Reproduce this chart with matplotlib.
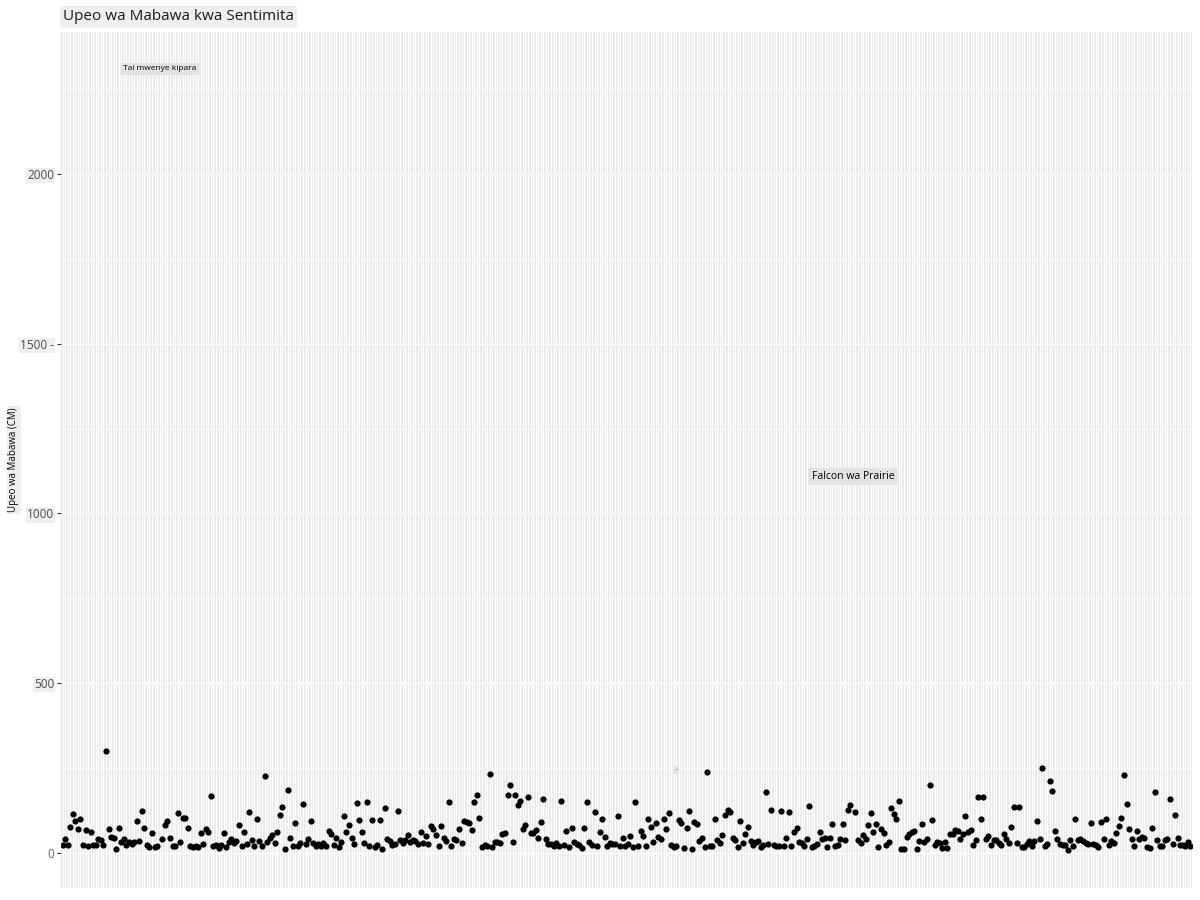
import matplotlib
matplotlib.use("Agg")
import matplotlib.pyplot as plt
import numpy as np

# ---- data (in category order) ----
seg1 = [25, 41, 25, 76, 116, 93, 71, 100, 25, 68, 22, 62, 25, 25, 41, 39, 25, 301, 71, 47,
        44, 12, 74, 32, 41, 25, 32, 27, 32, 94, 35, 123, 74, 25, 19, 59, 19, 22]
bald_eagle = [2310]
seg2 = [41, 82, 94, 44, 22, 22, 118, 32, 103, 103, 74, 22, 19, 22, 19, 59, 27, 71, 62, 168,
        22, 25, 14, 25, 59, 19, 32, 41, 29, 35, 82, 22, 62, 27, 121, 39, 22, 100, 35, 22,
        227, 32, 44, 53, 30, 62, 112, 135, 12, 185, 44, 22, 88, 22, 29, 144, 27, 41, 94, 30,
        22, 27, 22, 29, 22, 65, 56, 25, 44, 19, 32, 109, 62, 82, 44, 27, 147, 97, 62, 30,
        150, 22, 97, 19, 25, 97, 12, 132, 41, 35, 25, 27, 123, 39]
seg3 = [29, 39, 53, 32, 39, 35, 27, 62, 30, 50, 27, 79, 71, 53, 21, 79, 44, 35, 150, 21,
        41, 38, 71, 30, 94, 91, 88, 68, 150, 171, 103, 18, 24, 21, 232, 18, 32, 32, 29, 56,
        59, 171, 200, 32, 171, 141, 153, 71, 82, 165, 59, 59, 68, 44, 91, 159, 41, 26, 26, 21,
        29, 21, 153, 24, 65, 18, 74, 32, 26, 24, 15, 74, 150, 32, 24, 121, 21, 62, 100, 47,
        21, 29, 26, 26, 109, 21, 44, 21, 26, 50, 18, 150, 21, 65, 50, 21, 100, 76, 32, 88,
        47, 41, 100, 71, 118, 24, 18, 21, 97, 88, 15, 74, 123, 12, 91, 85, 35, 44, 18, 238,
        21, 21, 100, 38, 29, 53, 112, 126, 121, 44, 38, 18, 94, 29, 56, 76, 35, 24, 32, 35,
        18, 24, 179, 26, 126, 24, 21, 21, 123, 21, 44, 121, 21, 62, 74, 32]
seg4 = [29, 21, 41, 138, 18, 21, 26, 62, 41, 44, 18, 44, 85, 21, 24, 41, 85, 38, 126, 141]
prairie_falcon = [1120]
seg5 = [121, 38, 29, 53, 41, 82, 118, 62, 85, 18, 71, 59, 24, 32, 132, 115, 100, 153, 12, 12,
        47, 56, 62, 65, 12, 35, 85, 32, 41, 200, 97, 24, 32, 29, 15, 32, 15, 56, 56, 68,
        65, 41, 56, 109, 62, 68, 24, 38, 165, 100, 165, 41, 50, 24, 38, 38, 29, 24, 56, 41,
        29, 76, 135, 29, 135, 18, 18, 26, 35, 21, 35, 94, 41, 250, 21, 26, 212, 182, 65, 41,
        26, 24, 24, 9, 38, 21, 100, 38, 41, 35, 29, 26, 88, 26, 24, 18, 91, 41, 100, 24,
        35, 29, 59, 79, 103, 229, 144, 71, 41, 21, 65, 41, 47, 44, 18, 15, 74, 179, 38, 21,
        21, 38, 41, 159, 26, 112, 44, 24, 24, 21, 32, 21]
wingspan = seg1 + bald_eagle + seg2 + seg3 + seg4 + prairie_falcon + seg5

label_texts = ["Tai mwenye kipara", "Falcon wa Prairie", "-"]
label_idx = [len(seg1), len(seg1) + 1 + len(seg2) + len(seg3) + len(seg4),
             len(seg1) + 1 + len(seg2) + 107]
label_vals = [2310, 1108, 245]
label_sizes = [6, 7.5, 4]

yticks = [0, 500, 1000, 1500, 2000]
ytick_labels = ["0", "500", "1000", "1500 -", "2000"]
title = "Upeo wa Mabawa kwa Sentimita"
ylabel = "Upeo wa Mabawa (CM)"

# ---- plot ----
plt.rcParams['font.family'] = ['Open Sans', 'DejaVu Sans']
fig = plt.figure(figsize=(12, 9), dpi=100)
ax = fig.add_axes([61/1200, 1 - 888/900, (1192-61)/1200, (888-32)/900])
ax.set_facecolor('#EBEBEB')

n = len(wingspan)
x = np.arange(n)
ax.set_xlim(-0.6, n - 1 + 0.6)
ax.set_ylim(-103, 2418)

# grid
for xi in x:
    ax.axvline(xi, color='white', lw=0.7, zorder=0)
for yv in np.arange(250, 2500, 500):
    ax.axhline(yv, color='white', lw=0.5, zorder=0)
for yv in yticks:
    ax.axhline(yv, color='white', lw=1.0, zorder=0)

ax.scatter(x, wingspan, s=20, color='black', zorder=3, linewidths=0)

for t, i, v, fs in zip(label_texts, label_idx, label_vals, label_sizes):
    ax.text(i, v, t, fontsize=fs, ha='center', va='center', color='black', zorder=4,
            bbox=dict(boxstyle='square,pad=0.3', fc='#E3E3E3', ec='none'))

ax.set_xticks([])
ax.set_yticks(yticks)
ax.set_yticklabels(ytick_labels)
ax.tick_params(axis='y', length=3, width=0.8, color='#333333', labelsize=8.5,
               labelcolor='#4D4D4D', pad=2)
for lab in ax.get_yticklabels():
    if lab.get_text() != "0":
        lab.set_bbox(dict(boxstyle='square,pad=0.1', fc='#EFEFEF', ec='none'))
    else:
        lab.set_color('#5A6E8C')
for s in ax.spines.values():
    s.set_visible(False)

fig.text(14/1200, 1 - 460/900, ylabel, rotation=90, fontsize=7, ha='center', va='center',
         bbox=dict(boxstyle='square,pad=0.15', fc='#EFEFEF', ec='none'))
fig.text(63/1200, 1 - 17/900, title, fontsize=11, ha='left', va='center', color='#1A1A1A',
         bbox=dict(boxstyle='square,pad=0.2', fc='#EFEFEF', ec='none'))

fig.savefig('out.png', dpi=100)
